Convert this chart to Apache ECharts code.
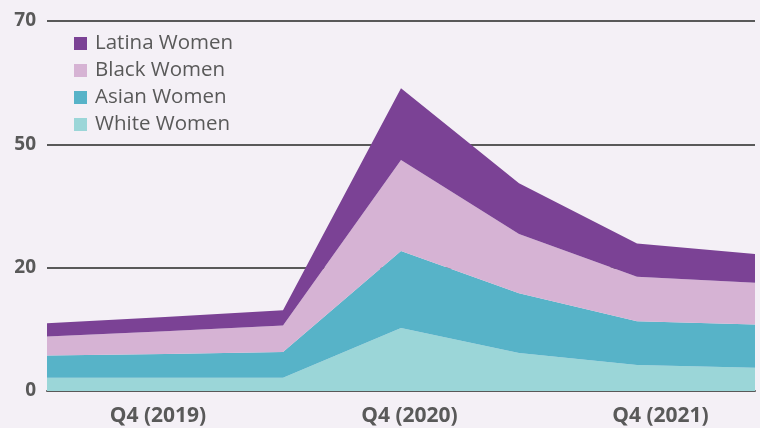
<!DOCTYPE html>
<html>
<head>
<meta charset="utf-8">
<script src="https://cdn.jsdelivr.net/npm/echarts@6/dist/echarts.min.js"></script>
<style>
  html, body { margin: 0; padding: 0; background: #f4f0f6; }
  #chart { width: 760px; height: 428px; }
</style>
</head>
<body>
<div id="chart"></div>
<script>
// half-year points, only the Q4 ones get a label
var categories = ['Q2 (2019)', 'Q4 (2019)', 'Q2 (2020)', 'Q4 (2020)', 'Q2 (2021)', 'Q4 (2021)', 'Q2 (2022)'];
var whiteWomen = [2.5, 2.5, 2.5, 11.9, 7.2, 4.9, 4.4];
var asianWomen = [4.2, 4.5, 4.9, 14.6, 11.3, 8.3, 8.2];
var blackWomen = [3.6, 4.3, 5.0, 17.2, 11.2, 8.4, 7.9];
var latinaWomen = [2.5, 2.7, 2.9, 13.6, 9.6, 6.3, 5.4];
var yTickLabels = ['0', '20', '50', '70'];

var myChart = echarts.init(document.getElementById('chart'));

function area(name, data, color) {
  return {
    name: name,
    type: 'line',
    stack: 'total',
    data: data,
    symbol: 'none',
    lineStyle: { width: 0 },
    areaStyle: { color: color, opacity: 1 },
    itemStyle: { color: color },
    emphasis: { disabled: true }
  };
}

// labels in the original sit a bit off the data points
var labelStyle = { color: '#595959', fontSize: 21, fontWeight: 'bold' };
var option = {
  backgroundColor: '#f4f0f6',
  animation: false,
  textStyle: { fontFamily: 'Open Sans' },
  grid: { left: 47, right: 5, top: 21, bottom: 37 },
  legend: {
    orient: 'vertical',
    left: 74,
    top: 33,
    padding: 0,
    itemWidth: 13,
    itemHeight: 13,
    itemGap: 6,
    icon: 'rect',
    data: ['Latina Women', 'Black Women', 'Asian Women', 'White Women'],
    textStyle: { color: '#595959', fontSize: 20.5, fontFamily: 'Open Sans', padding: [0, 0, 0, 3] }
  },
  xAxis: {
    type: 'category',
    data: categories,
    boundaryGap: false,
    axisLine: { lineStyle: { color: '#595959', width: 2 } },
    axisTick: { show: false },
    axisLabel: {
      interval: function (i) { return i % 2 === 1; },
      margin: 15,
      formatter: function (v, i) {
        return '{l' + i + '|' + v + '}';
      },
      rich: {
        l1: Object.assign({ padding: [0, 14, 0, 0] }, labelStyle),
        l3: Object.assign({ padding: [0, 0, 0, 17] }, labelStyle),
        l5: Object.assign({ padding: [0, 0, 0, 47] }, labelStyle)
      }
    }
  },
  yAxis: {
    type: 'value',
    min: 0,
    max: 70,
    interval: 70 / 3,
    axisLine: { show: false },
    axisTick: { show: false },
    splitLine: { lineStyle: { color: '#595959', width: 2 } },
    axisLabel: {
      color: '#595959',
      fontSize: 19,
      fontWeight: 'bold',
      margin: 11,
      formatter: function (v, i) { return yTickLabels[i]; }
    }
  },
  series: [
    area('White Women', whiteWomen, '#9bd6d8'),
    area('Asian Women', asianWomen, '#57b3c8'),
    area('Black Women', blackWomen, '#d6b3d4'),
    area('Latina Women', latinaWomen, '#7b4295')
  ]
};

myChart.setOption(option);
</script>
</body>
</html>
